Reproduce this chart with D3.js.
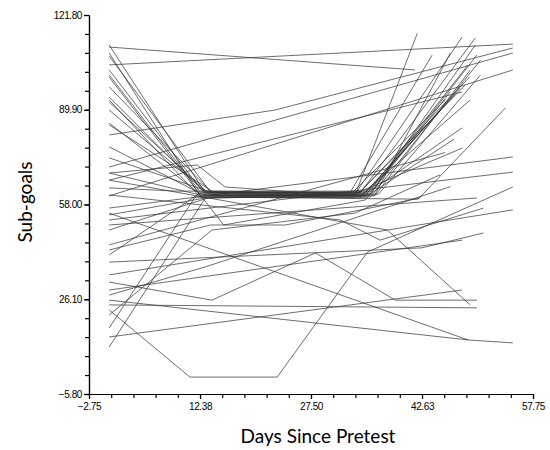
<!DOCTYPE html>
<html>
<head>
<meta charset="utf-8">
<script src="https://cdn.jsdelivr.net/npm/d3@7"></script>
<style>
body { margin: 0; background: #fff; }
</style>
</head>
<body>
<div id="chart"></div>
<script>
// axis ticks as printed on the original
var xTicks = [-2.75, 12.38, 27.50, 42.63, 57.75];
var yTicks = [-5.80, 26.10, 58.00, 89.90, 121.80];

// subjects that drop to ~60, stay there, then climb again  [day, sub-goals]
var dipAndRise = [
  [[0,111.7],[13.1,61.9],[34.2,61.9],[49.9,114.1]],
  [[0,109.0],[12.4,60.9],[33.5,61.2],[42.0,115.7]],
  [[0,108.0],[13.8,62.2],[35.6,62.2],[50.1,108.3]],
  [[0,103.3],[13.1,61.2],[34.9,60.9],[48.9,105.0]],
  [[0,101.6],[12.4,62.2],[32.8,61.9],[44.0,108.3]],
  [[0,97.6],[14.4,60.9],[36.2,61.2],[46.5,109.0]],
  [[0,94.2],[13.1,61.9],[34.2,62.2],[49.1,100.9]],
  [[0,93.2],[12.4,60.5],[35.6,60.5],[50.6,106.6]],
  [[0,92.5],[13.8,61.2],[33.5,61.5],[48.1,114.4]],
  [[0,89.8],[13.1,62.5],[34.9,61.9],[47.8,97.2]],
  [[0,85.4],[12.4,61.5],[32.8,61.2],[45.8,93.2]],
  [[0,84.8],[14.4,61.9],[36.2,60.9],[49.2,103.3]],
  [[0,77.4],[13.1,60.9],[34.2,60.2],[47.1,94.9]],
  [[0,73.7],[13.8,62.2],[35.6,61.5],[49.9,111.7]],
  [[0,68.6],[12.4,61.2],[34.9,61.2],[45.1,89.8]],
  [[0,63.6],[9.3,62.5],[35.6,62.5],[48.1,83.8]],
  [[0,16.4],[11.7,60.5],[33.5,60.5],[48.5,98.2]],
  [[0,10.0],[13.1,60.2],[34.2,60.9],[49.2,93.2]],
  [[0,41.0],[12.4,61.9],[36.7,61.5],[50.6,101.6]],
  [[0,49.4],[13.8,60.5],[42.1,59.8],[54.0,90.5]],
  [[0,54.5],[13.1,60.2],[32.8,60.9],[48.1,77.0]],
  [[0,100.9],[15.6,51.1],[34.9,59.5],[46.5,96.0]]
];

// subjects with only a pretest and one later score
var straightLines = [
  [[0,111.0],[41.7,103.3]],
  [[0,105.0],[55.0,112.0]],
  [[0,70.6],[55.0,109.0]],
  [[0,66.2],[48.1,95.9]],
  [[0,60.9],[55.0,103.3]],
  [[0,56.8],[55.0,74.0]],
  [[0,52.8],[55.0,68.9]],
  [[0,51.1],[50.1,60.2]],
  [[0,34.3],[55.0,56.2]],
  [[0,29.2],[48.1,46.0]],
  [[0,24.2],[50.1,23.2]],
  [[0,55.1],[48.9,12.4]],
  [[0,13.4],[48.1,29.2]],
  [[0,44.4],[45.8,75.5]]
];

// subjects with irregular paths
var bentLines = [
  [[0,81.4],[22.6,89.8],[55.0,110.7]],
  [[0,38.6],[42.6,43.4],[51.0,48.4]],
  [[0,31.9],[14.0,25.8],[28.1,41.7],[39.0,25.8],[50.1,25.8]],
  [[0,22.5],[11.0,-0.1],[22.9,-0.1],[35.2,42.0],[55.0,63.9]],
  [[0,25.8],[48.9,12.4],[55.0,11.4]],
  [[0,61.2],[31.5,52.8],[36.9,46.0],[51.0,56.8]],
  [[0,66.2],[37.9,49.4],[49.2,24.2]],
  [[0,42.7],[13.8,51.1],[24.0,51.1],[42.4,60.2]],
  [[0,68.6],[12.0,71.3],[15.8,63.9],[34.9,60.5],[47.0,80.0]],
  [[0,20.8],[14.0,49.4],[33.5,55.1],[45.1,68.0]],
  [[0,27.5],[13.1,37.0],[46.5,64.0]]
];

var margin = {top: 15, right: 17, bottom: 56, left: 89},
    width = 550 - margin.left - margin.right,
    height = 450 - margin.top - margin.bottom;

var svg = d3.select("#chart")
  .append("svg")
  .attr("width", width + margin.left + margin.right)
  .attr("height", height + margin.top + margin.bottom)
  .append("g")
  .attr("transform", "translate(" + margin.left + "," + margin.top + ")");

var x = d3.scaleLinear()
  .domain([xTicks[0], xTicks[xTicks.length - 1]])
  .range([0, width]);

var y = d3.scaleLinear()
  .domain([yTicks[0], yTicks[yTicks.length - 1]])
  .range([height, 0]);

var line = d3.line()
  .x(function(d) { return x(d[0]); })
  .y(function(d) { return y(d[1]); });

var allLines = dipAndRise.concat(straightLines).concat(bentLines);

svg.selectAll(".subject")
  .data(allLines)
  .enter()
  .append("path")
  .attr("class", "subject")
  .attr("d", line)
  .style("fill", "none")
  .style("stroke", "#333")
  .style("stroke-opacity", 0.8)
  .style("stroke-width", 0.9);

// minor ticks: 5 steps between labelled ticks
var xMinor = d3.range(0, 21).map(function(i) { return xTicks[0] + i * (xTicks[4] - xTicks[0]) / 20; });
var yMinor = d3.range(0, 21).map(function(i) { return yTicks[0] + i * (yTicks[4] - yTicks[0]) / 20; });

svg.append("g")
  .attr("transform", "translate(0," + height + ")")
  .call(d3.axisBottom(x).tickValues(xMinor).tickSize(4).tickSizeOuter(0).tickFormat(""));

svg.append("g")
  .call(d3.axisLeft(y).tickValues(yMinor).tickSize(4).tickSizeOuter(0).tickFormat(""));

svg.append("g")
  .attr("transform", "translate(0," + height + ")")
  .call(d3.axisBottom(x).tickValues(xTicks).tickSize(5).tickSizeOuter(0).tickPadding(4).tickFormat(d3.format(".2f")));

svg.append("g")
  .call(d3.axisLeft(y).tickValues(yTicks).tickSize(5).tickSizeOuter(0).tickPadding(2).tickFormat(d3.format(".2f")));

svg.selectAll(".domain").attr("stroke", "#000").attr("stroke-width", 1.2);
svg.selectAll(".tick line").attr("stroke", "#000").attr("stroke-width", 1.2);
svg.selectAll(".tick text")
  .style("font-family", "'Liberation Sans', Arial, sans-serif")
  .style("font-size", "10px")
  .style("letter-spacing", "-0.4px")
  .attr("fill", "#000");

// axis titles
svg.append("text")
  .attr("text-anchor", "middle")
  .attr("x", 318 - margin.left)
  .attr("y", 443 - margin.top)
  .style("font-family", "Lato, 'Open Sans', sans-serif")
  .style("font-size", "19px")
  .attr("fill", "#000")
  .text("Days Since Pretest");

svg.append("text")
  .attr("text-anchor", "middle")
  .attr("transform", "translate(" + (32 - margin.left) + "," + (202 - margin.top) + ") rotate(-90)")
  .style("font-family", "Lato, 'Open Sans', sans-serif")
  .style("font-size", "19px")
  .attr("fill", "#000")
  .text("Sub-goals");
</script>
</body>
</html>
